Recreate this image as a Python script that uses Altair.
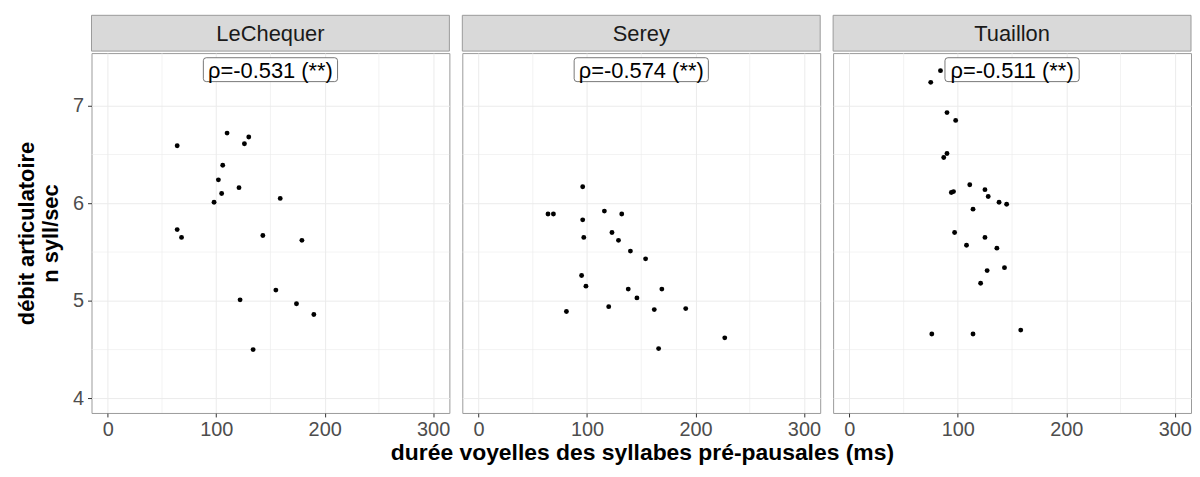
import altair as alt
import pandas as pd

FONT = "Liberation Sans"

speakers = ["LeChequer", "Serey", "Tuaillon"]
rho_labels = ["ρ=-0.531 (**)", "ρ=-0.574 (**)", "ρ=-0.511 (**)"]
label_x = 150
label_y = 7.37

lechequer_duree = [110, 130, 126, 64, 106, 102, 121, 105, 98, 159, 64, 68, 143, 179, 155, 122, 174, 190, 134]
lechequer_debit = [6.72, 6.68, 6.61, 6.59, 6.39, 6.24, 6.16, 6.10, 6.01, 6.05, 5.73, 5.65, 5.67, 5.62, 5.11, 5.01, 4.97, 4.86, 4.50]

serey_duree = [96, 64, 69, 116, 132, 96, 97, 123, 129, 140, 154, 95, 99, 138, 169, 146, 120, 81, 162, 191, 227, 166]
serey_debit = [6.17, 5.89, 5.89, 5.92, 5.89, 5.83, 5.65, 5.70, 5.62, 5.51, 5.43, 5.26, 5.15, 5.12, 5.12, 5.03, 4.94, 4.89, 4.91, 4.92, 4.62, 4.51]

tuaillon_duree = [84, 75, 90, 98, 90, 87, 111, 125, 94, 96, 128, 138, 145, 114, 97, 125, 108, 136, 143, 127, 121, 76, 114, 158]
tuaillon_debit = [7.36, 7.24, 6.93, 6.85, 6.51, 6.47, 6.19, 6.14, 6.11, 6.12, 6.07, 6.01, 5.99, 5.94, 5.70, 5.65, 5.57, 5.54, 5.34, 5.31, 5.18, 4.66, 4.66, 4.70]

series = [(lechequer_duree, lechequer_debit), (serey_duree, serey_debit), (tuaillon_duree, tuaillon_debit)]

x_title = "durée voyelles des syllabes pré-pausales (ms)"
y_title = ["débit articulatoire", "n syll/sec"]

x_major = [0, 100, 200, 300]
x_minor = [50, 150, 250]
y_major = [4, 5, 6, 7]
y_minor = [4.5, 5.5, 6.5]
x_domain = [-15, 315]
y_domain = [3.85, 7.54]

W = 360
H = 362
STRIP_H = 36
GRID = "#ebebeb"
BORDER = "#9a9a9a"
TICK = "#333333"
LABEL = "#4d4d4d"

BOX_PATH = ("M-0.956,-0.178 L0.956,-0.178 Q1,-0.178 1,-0.134 L1,0.134 Q1,0.178 0.956,0.178 "
            "L-0.956,0.178 Q-1,0.178 -1,0.134 L-1,-0.134 Q-1,-0.178 -0.956,-0.178 Z")


def make_panel(i):
    dur, deb = series[i]
    df = pd.DataFrame({"duree": dur, "debit": deb})
    first = i == 0

    xs = alt.Scale(domain=x_domain, nice=False, zero=False)
    ys = alt.Scale(domain=y_domain, nice=False, zero=False)

    x_axis = alt.Axis(values=x_major, grid=True, gridColor=GRID, gridWidth=1,
                      domain=False, ticks=True, tickSize=4, tickColor=TICK,
                      labelFontSize=20, labelColor=LABEL, labelPadding=3,
                      labelFont=FONT, format="d", title=None)

    if first:
        y_axis = alt.Axis(values=y_major, grid=True, gridColor=GRID, gridWidth=1,
                          domain=False, ticks=True, tickSize=4, tickColor=TICK,
                          labelFontSize=20, labelColor=LABEL, labelPadding=4,
                          labelFont=FONT, format="d",
                          title=y_title,
                          titleFont=FONT, titleFontSize=22, titleFontWeight="bold",
                          titleColor="black", titleLineHeight=24, titlePadding=10)
    else:
        y_axis = alt.Axis(values=y_major, grid=True, gridColor=GRID, gridWidth=1,
                          domain=False, ticks=False, labels=False, title=None)

    minor_x = alt.Chart(pd.DataFrame({"mx": x_minor})).mark_rule(
        color=GRID, strokeWidth=0.6).encode(x=alt.X("mx:Q", scale=xs, axis=x_axis))
    minor_y = alt.Chart(pd.DataFrame({"my": y_minor})).mark_rule(
        color=GRID, strokeWidth=0.6).encode(y=alt.Y("my:Q", scale=ys, axis=y_axis))

    pts = alt.Chart(df).mark_circle(size=24, color="black", opacity=1).encode(
        x=alt.X("duree:Q", scale=xs, axis=x_axis),
        y=alt.Y("debit:Q", scale=ys, axis=y_axis),
    )

    lab = pd.DataFrame({"lx": [label_x], "ly": [label_y], "txt": [rho_labels[i]]})
    box = alt.Chart(lab).mark_point(shape=BOX_PATH, size=135 * 135, filled=True,
                                     fill="white", stroke="#555555", strokeWidth=0.8,
                                     opacity=1).encode(
        x=alt.X("lx:Q", scale=xs), y=alt.Y("ly:Q", scale=ys))
    txt = alt.Chart(lab).mark_text(fontSize=22, font=FONT, color="black",
                                    baseline="middle", align="center", dy=1).encode(
        x=alt.X("lx:Q", scale=xs), y=alt.Y("ly:Q", scale=ys), text="txt:N")

    panel = alt.layer(minor_x, minor_y, pts, box, txt).properties(
        width=W, height=H,
        view=alt.ViewBackground(stroke=BORDER, strokeWidth=1))

    sdf = pd.DataFrame({"speaker": [speakers[i]]})
    srect = alt.Chart(sdf).mark_rect(fill="#d9d9d9", stroke=BORDER, strokeWidth=1).encode(
        x=alt.value(0), x2=alt.value(W), y=alt.value(0), y2=alt.value(STRIP_H))
    stext = alt.Chart(sdf).mark_text(fontSize=22, font=FONT, color="#1a1a1a",
                                     baseline="middle", align="center", dy=1).encode(
        x=alt.value(W / 2), y=alt.value(STRIP_H / 2), text="speaker:N")
    strip = alt.layer(srect, stext).properties(
        width=W, height=STRIP_H,
        view=alt.ViewBackground(stroke="transparent"))

    return alt.vconcat(strip, panel, spacing=0)


chart = alt.hconcat(*[make_panel(i) for i in range(3)], spacing=11).properties(
    title=alt.TitleParams(text=x_title, orient="bottom", anchor="middle", frame="bounds",
                          fontSize=23, fontWeight="bold", font=FONT, color="black",
                          offset=2, dx=39),
    padding={"left": 7, "top": 5, "right": 0, "bottom": 0},
).configure_view(stroke=BORDER)

chart.save("out.html", embed_options={"renderer": "svg", "actions": False})
